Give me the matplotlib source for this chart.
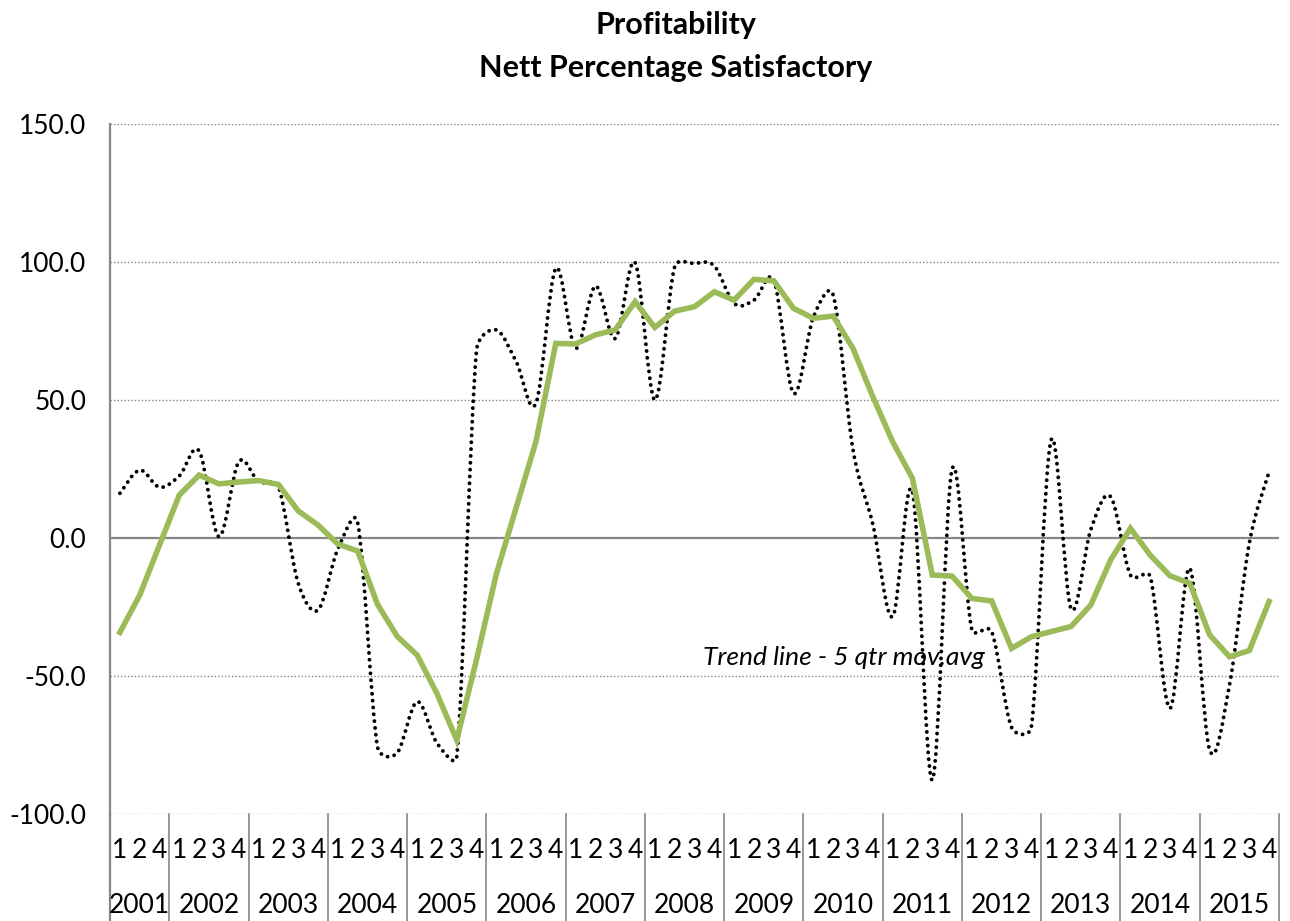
import numpy as np
import matplotlib
matplotlib.use('Agg')
import matplotlib.pyplot as plt
from matplotlib.path import Path
from matplotlib.patches import PathPatch
import matplotlib.transforms as mtransforms

plt.rcParams['font.family'] = ['Lato', 'DejaVu Sans']

# quarters (2001 has only Q1, Q2, Q4)
years = [2001, 2002, 2003, 2004, 2005, 2006, 2007, 2008,
         2009, 2010, 2011, 2012, 2013, 2014, 2015]
quarters_per_year = [3] + [4] * 14
quarter_labels = ['1', '2', '4'] + ['1', '2', '3', '4'] * 14

# nett percentage satisfactory (dotted)
nett = [16.2, 24.6, 18.4,
        22.5, 31.5, 0.5, 27.6,
        20.4, 18.6, -16.4, -26.1,
        -4.0, 5.6, -75.6, -77.8,
        -59.3, -74.3, -79.2, 68.1,
        75.4, 63.9, 48.8, 97.7,
        68.7, 91.3, 72.3, 99.8,
        50.0, 98.3, 99.5, 98.6,
        85.0, 86.2, 93.5, 52.4,
        80.0, 88.0, 32.0, 5.0,
        -28.5, 16.8, -87.7, 24.9,
        -33.3, -33.9, -68.6, -68.6,
        35.5, -25.5, 3.0, 15.0,
        -13.4, -14.0, -61.7, -11.0,
        -76.8, -53.3, -1.9, 24.0]

# trend line - 5 qtr moving average (green)
trend = [-34.2, -20.7, -2.5,
         15.6, 22.8, 19.6, 20.3,
         20.8, 19.4, 9.8, 4.7,
         -2.2, -4.7, -24.0, -35.7,
         -42.4, -56.3, -73.2, -44.0,
         -13.0, 11.0, 35.0, 70.5,
         70.3, 73.6, 75.4, 85.6,
         76.3, 82.2, 83.8, 89.2,
         86.2, 93.7, 93.2, 83.2,
         79.6, 80.4, 68.7, 51.2,
         34.9, 21.6, -13.4, -13.8,
         -21.9, -22.8, -40.0, -35.8,
         -33.9, -32.1, -24.3, -8.0,
         3.5, -6.2, -13.7, -16.4,
         -35.1, -43.0, -40.8, -23.0]

n = len(nett)
x = np.arange(n)

fig = plt.figure(figsize=(12.9, 9.21), dpi=100)
ax = fig.add_axes([110/1290, 1 - 814/921, 1169/1290, 690/921])

grey = '#868686'

ax.set_xlim(-0.5, n - 0.5)
ax.set_ylim(-100, 150)

# smoothed dotted line, excel style bezier (arm length limited to half a segment,
# measured in screen units)
sx = 1169 / n
sy = 690 / 250
pts = np.column_stack([x, nett]).astype(float)
scr = pts * [sx, sy]


def dist(a, b):
    return np.hypot(*(scr[a] - scr[b]))


verts = [tuple(pts[0])]
codes = [Path.MOVETO]
for i in range(n - 1):
    i0, i1, i2, i3 = max(i - 1, 0), i, i + 1, min(i + 2, n - 1)
    d12 = dist(i1, i2)
    d02 = dist(i0, i2)
    d13 = dist(i1, i3)
    f1 = 1 / 6 if d02 / 6 < d12 / 2 else (d12 / 2 / d02 if d02 > 0 else 0)
    f2 = 1 / 6 if d13 / 6 < d12 / 2 else (d12 / 2 / d13 if d13 > 0 else 0)
    c1 = pts[i1] + f1 * (pts[i2] - pts[i0])
    c2 = pts[i2] - f2 * (pts[i3] - pts[i1])
    verts += [tuple(c1), tuple(c2), tuple(pts[i2])]
    codes += [Path.CURVE4] * 3
patch = PathPatch(Path(verts, codes), facecolor='none', edgecolor='black',
                  lw=2.8, linestyle=(0, (0.01, 1.75)), capstyle='round',
                  transform=ax.transData, zorder=3)
ax.add_patch(patch)

ax.plot(x, trend, color='#9BBB59', lw=4.0, solid_joinstyle='miter', zorder=4)

ax.set_yticks([-100, -50, 0, 50, 100, 150])
ax.set_yticklabels([f'{v:.1f}' for v in [-100, -50, 0, 50, 100, 150]])
ax.tick_params(axis='y', length=0, pad=17, labelsize=19)
ax.set_xticks([])

for v in [-100, -50, 50, 100, 150]:
    ax.axhline(v, color=grey, lw=1, linestyle=(0, (1, 1.5)), zorder=1)
ax.axhline(0, color=grey, lw=1.6, zorder=2)

for s in ['top', 'right', 'bottom']:
    ax.spines[s].set_visible(False)
ax.spines['left'].set_color(grey)
ax.spines['left'].set_linewidth(1.6)

# category axis below the plot
trans = mtransforms.blended_transform_factory(ax.transData, ax.transAxes)
bounds = np.concatenate([[0], np.cumsum(quarters_per_year)]) - 0.5
for b in bounds:
    ax.plot([b, b], [0, -0.16], color=grey, lw=1.6 if b == bounds[0] else 1.2,
            transform=trans, clip_on=False)
for i, q in enumerate(quarter_labels):
    ax.text(i, -0.0536, q, transform=trans, ha='center', va='center', fontsize=19)
for k, yr in enumerate(years):
    ax.text((bounds[k] + bounds[k + 1]) / 2, -0.1319, str(yr), transform=trans,
            ha='center', va='center', fontsize=19)

fig.text(676/1290, 1 - 25/921, 'Profitability', ha='center', va='center',
         fontsize=22, fontweight='bold')
fig.text(676/1290, 1 - 68/921, 'Nett Percentage Satisfactory', ha='center',
         va='center', fontsize=22, fontweight='bold')
fig.text(703/1290, 1 - 665/921, 'Trend line - 5 qtr mov.avg', ha='left',
         va='baseline', fontsize=19, style='italic')

fig.savefig('out.png', dpi=100)
